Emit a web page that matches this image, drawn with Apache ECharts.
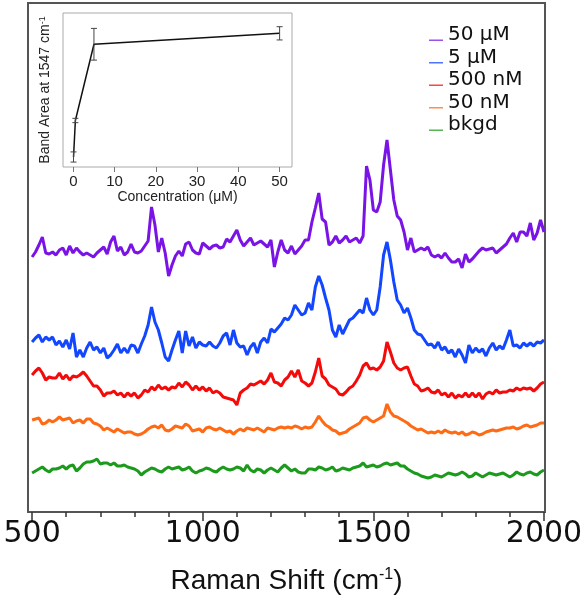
<!DOCTYPE html>
<html><head><meta charset="utf-8">
<script src="https://cdn.jsdelivr.net/npm/echarts@6/dist/echarts.min.js"></script>
<style>html,body{margin:0;padding:0;background:#fff}#c{width:587px;height:600px}</style>
</head><body><div id="c"></div>
<script>
// Raman shift sample positions (cm-1)
const ramanShift = [500,510,520,530,540,550,560,570,580,590,600,610,620,630,640,650,660,670,680,690,
700,710,720,730,740,750,760,770,780,790,800,810,820,830,840,850,860,870,880,890,
900,910,920,930,940,950,960,970,980,990,1000,1010,1020,1030,1040,1050,1060,1070,1080,1090,
1100,1110,1120,1130,1140,1150,1160,1170,1180,1190,1200,1210,1220,1230,1240,1250,1260,1270,1280,1290,
1300,1310,1320,1330,1340,1350,1360,1370,1380,1390,1400,1410,1420,1430,1440,1450,1460,1470,1480,1490,
1500,1510,1520,1530,1540,1550,1560,1570,1580,1590,1600,1610,1620,1630,1640,1650,1660,1670,1680,1690,
1700,1710,1720,1730,1740,1750,1760,1770,1780,1790,1800,1810,1820,1830,1840,1850,1860,1870,1880,1890,
1900,1910,1920,1930,1940,1950,1960,1970,1980,1990,2000];

// Stacked spectra (arbitrary intensity units, offsets included)
const spec50uM = [255,260,267,275,259,258,260,257,262,264,
257,266,259,264,260,257,259,257,255,259,
262,265,258,270,276,261,265,257,260,268,
260,259,261,266,271,305,287,260,274,259,
236,247,256,261,256,268,270,262,259,258,
269,266,263,266,267,264,265,273,270,276,
282,272,266,270,274,267,269,271,268,265,
272,245,260,272,262,259,266,258,262,266,
272,272,290,304,319,293,290,267,270,276,
269,272,276,270,272,274,269,276,346,332,
302,300,310,347,372,342,312,296,292,280,
262,274,260,262,264,262,265,257,255,257,
254,259,254,250,250,253,244,258,250,253,
257,261,264,262,263,264,259,262,265,268,
274,279,270,280,280,276,289,272,279,292,
280];
const spec5uM = [170,174,177,170,175,172,175,167,171,165,
172,163,179,155,162,155,164,170,162,165,
159,164,154,157,162,168,159,164,159,167,
166,159,168,176,187,205,190,182,169,155,
151,162,172,181,159,181,166,175,164,170,
167,166,170,166,164,169,176,179,167,182,
169,165,166,157,165,169,159,170,174,169,
183,180,184,188,194,192,197,207,202,197,
199,209,202,225,236,227,214,202,182,175,
187,178,185,192,194,198,202,199,214,202,
197,202,225,257,270,252,230,212,207,199,
204,194,182,178,177,172,167,168,164,170,
162,165,159,162,155,163,157,149,167,159,
164,160,163,156,164,169,162,166,163,172,
182,166,167,164,169,166,169,166,170,169,
172];
const spec500nM = [137,141,144,139,132,135,134,134,139,133,
137,132,136,135,137,140,136,131,126,126,
122,116,119,119,121,117,119,115,119,116,
119,114,117,122,120,125,122,127,123,125,
122,125,124,129,125,130,127,122,126,122,
125,121,124,119,121,119,115,114,113,112,
107,119,122,124,128,127,129,131,128,132,
139,130,129,126,132,135,141,135,142,131,
129,126,129,140,154,136,133,127,125,123,
118,117,120,124,126,131,137,146,149,143,
144,142,145,151,170,160,149,144,142,144,
145,136,128,126,121,122,124,120,119,122,
117,119,115,119,114,117,115,119,115,119,
115,119,113,118,120,118,122,119,120,120,
122,121,124,122,124,123,124,121,124,128,
130];
const spec50nM = [92,93,94,88,89,92,90,92,95,92,
93,94,89,91,92,89,93,93,89,88,
86,82,84,82,80,83,81,79,80,80,
78,77,78,80,83,85,86,84,87,82,
81,83,86,85,84,88,86,81,82,83,
80,84,85,83,82,84,82,80,81,78,
81,83,81,84,83,82,84,82,80,84,
83,82,84,85,84,85,84,86,85,83,
85,84,85,90,96,91,87,85,82,81,
78,79,80,83,85,87,89,94,95,92,
90,92,94,96,108,100,96,95,93,91,
89,86,84,82,83,81,79,80,79,81,
79,82,80,79,80,78,80,77,78,80,
79,77,78,80,81,82,81,82,83,84,
84,85,83,84,86,87,85,86,87,89,
89];
const specBkgd = [39,41,43,45,42,40,43,43,44,46,
43,46,47,41,44,48,50,50,51,53,
48,49,49,47,49,46,46,47,45,44,
43,41,37,40,42,44,43,41,40,43,
45,43,44,45,42,43,45,41,39,41,
42,44,43,41,40,43,45,43,42,43,
45,44,41,47,42,40,43,42,39,42,
44,42,40,44,47,44,41,43,40,39,
39,43,43,42,45,44,42,43,45,41,
42,44,43,42,44,45,46,49,45,46,
47,45,46,48,49,47,48,49,46,46,
43,41,39,38,36,35,34,35,37,36,
35,37,39,38,37,38,40,38,35,36,
39,37,35,37,39,38,37,38,39,37,
35,37,40,38,37,39,40,38,37,40,
42];

const seriesNames = ['50 μM','5 μM','500 nM','50 nM','bkgd'];
const majorTicks = [500,1000,1500,2000];
const minorTicks = [600,700,800,900,1100,1200,1300,1400,1600,1700,1800,1900];

// Inset: band area at 1547 cm-1 vs concentration
const concentration = [0.05, 0.5, 5, 50];
const bandArea = [6.5, 30.2, 79.7, 86.8];
const bandAreaErr = [3.3, 1.4, 10.3, 4.3];
const insetTicks = [0,10,20,30,40,50];

const spectra = [spec50uM, spec5uM, spec500nM, spec50nM, specBkgd];
const colors = ['#7a14e6','#1246ff','#f50a0a','#ff6a14','#1c9a1c'];

const chart = echarts.init(document.getElementById('c'), null, {renderer:'canvas'});
const plain = v => String(v);

const mainSeries = spectra.map((arr, k) => ({
  type:'line', name: seriesNames[k], xAxisIndex:0, yAxisIndex:0,
  data: ramanShift.map((x, i) => [x, arr[i]]),
  symbol:'none', showSymbol:false, smooth:false,
  lineStyle:{ width:3, color: colors[k] }, itemStyle:{ color: colors[k] },
  silent:true, z: 3
}));

const option = {
  animation:false,
  backgroundColor:'#fff',
  legend:{
    data: seriesNames, orient:'vertical', left:429, top:25, padding:0,
    itemWidth:14, itemHeight:12, itemGap:2.5, itemTextGap:11,
    icon:'path://M0,0 L0.05,0 L0.05,0.05 Z M0,10.5 L14,10.5 L14,12 L0,12 Z',
    itemStyle:{ opacity:0.75 },
    textStyle:{ fontSize:20, fontFamily:'DejaVu Sans', color:'#111', lineHeight:19 }
  },
  grid:[
    { left:28, top:3, width:517, height:509, show:true, borderColor:'#555', borderWidth:2, backgroundColor:'transparent' },
    { left:63, top:13, width:229, height:154, show:true, borderColor:'#aaa', borderWidth:1, backgroundColor:'#fff' }
  ],
  xAxis:[
    { gridIndex:0, type:'value', min:488, max:2003, position:'bottom',
      axisLine:{ show:true, lineStyle:{ color:'#555', width:2 } },
      axisTick:{ show:true, customValues: majorTicks, length:9, lineStyle:{ color:'#333', width:1.5 } },
      axisLabel:{ customValues: majorTicks, formatter: plain, fontSize:30, fontFamily:'DejaVu Sans', color:'#111', margin:7 },
      splitLine:{ show:false },
      name:'Raman Shift (cm{sup|-1})', nameLocation:'middle', nameGap:55,
      nameTextStyle:{ fontSize:28, fontFamily:'Liberation Sans', color:'#111',
        rich:{ sup:{ fontSize:16, fontFamily:'Liberation Sans', color:'#111', verticalAlign:'top', padding:[0,0,12,0] } } }
    },
    { gridIndex:0, type:'value', min:488, max:2003, position:'bottom', offset:0,
      axisLine:{ show:false },
      axisTick:{ show:true, customValues: minorTicks, length:5, lineStyle:{ color:'#333', width:1.5 } },
      axisLabel:{ show:false }, splitLine:{ show:false }
    },
    { gridIndex:1, type:'value', min:-2.5, max:53,
      axisLine:{ show:false },
      axisTick:{ show:true, customValues: insetTicks, length:5, lineStyle:{ color:'#777', width:1 } },
      axisLabel:{ customValues: insetTicks, formatter: plain, fontSize:15, fontFamily:'Liberation Sans', color:'#222', margin:7 },
      splitLine:{ show:false },
      name:'Concentration (μM)', nameLocation:'middle', nameGap:23,
      nameTextStyle:{ fontSize:14, fontFamily:'Liberation Sans', color:'#222' }
    }
  ],
  yAxis:[
    { gridIndex:0, type:'value', min:0, max:509, show:false },
    { gridIndex:1, type:'value', min:0, max:100,
      axisLine:{ show:false }, axisTick:{ show:false }, axisLabel:{ show:false }, splitLine:{ show:false },
      name:'Band Area at 1547 cm{sup|-1}', nameLocation:'middle', nameRotate:90, nameGap:10,
      nameTextStyle:{ fontSize:14, fontFamily:'Liberation Sans', color:'#222',
        rich:{ sup:{ fontSize:9, fontFamily:'Liberation Sans', color:'#222', verticalAlign:'top', padding:[0,0,6,0] } } }
    }
  ],
  series: mainSeries.concat([
    { type:'line', name:'inset', xAxisIndex:2, yAxisIndex:1,
      data: concentration.map((c, i) => [c, bandArea[i]]),
      symbol:'none', lineStyle:{ color:'#111', width:1.5 }, silent:true, z:5 },
    { type:'custom', name:'err', xAxisIndex:2, yAxisIndex:1,
      data: concentration.map((c, i) => [c, bandArea[i] - bandAreaErr[i], bandArea[i] + bandAreaErr[i]]),
      encode:{ x:0, y:[1,2] }, silent:true, z:6,
      renderItem:function(params, api){
        const x = api.value(0);
        const lo = api.coord([x, api.value(1)]);
        const hi = api.coord([x, api.value(2)]);
        const w = 3;
        const st = { stroke:'#444', lineWidth:1 };
        return { type:'group', children:[
          { type:'line', shape:{ x1:lo[0], y1:lo[1], x2:hi[0], y2:hi[1] }, style:st },
          { type:'line', shape:{ x1:lo[0]-w, y1:lo[1], x2:lo[0]+w, y2:lo[1] }, style:st },
          { type:'line', shape:{ x1:hi[0]-w, y1:hi[1], x2:hi[0]+w, y2:hi[1] }, style:st }
        ]};
      }
    }
  ])
};
chart.setOption(option);
</script></body></html>
